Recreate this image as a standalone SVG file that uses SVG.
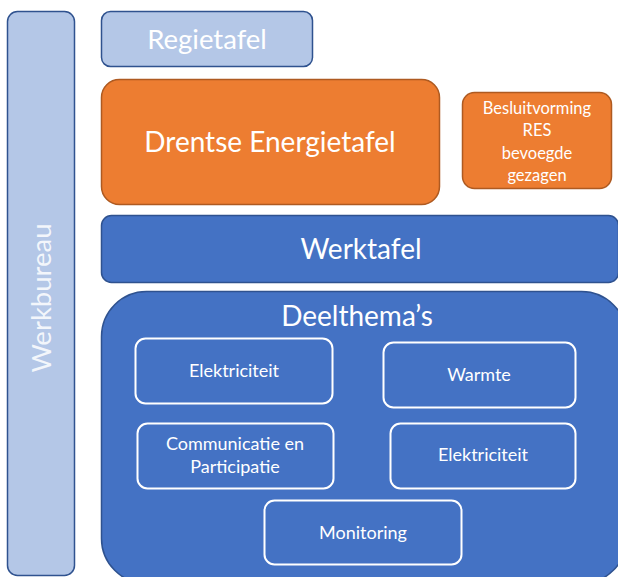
<svg xmlns="http://www.w3.org/2000/svg" width="618" height="577" viewBox="0 0 618 577">
<style>
text{font-family:Lato,"Liberation Sans",sans-serif;fill:#ffffff;text-anchor:middle}
.light{fill:#b4c7e7;stroke:#2f528f;stroke-width:1.5}
.orange{fill:#ed7d31;stroke:#ae5a21;stroke-width:1.5}
.blue{fill:#4472c4;stroke:#2f528f;stroke-width:1.5}
.sub{fill:none;stroke:#ffffff;stroke-width:2}
.big{font-size:28px}
.mid{font-size:18px}
.sm{font-size:16.5px}
</style>
<rect width="618" height="577" fill="#ffffff"/>
<g id="werkbureau">
<rect class="light" x="7.5" y="11.5" width="67" height="564" rx="10"/>
<text transform="translate(51,298) rotate(-90)" font-size="27.5" fill-opacity="0.85">Werkbureau</text>
</g>
<g id="regietafel">
<rect class="light" x="101.5" y="11.5" width="211" height="55" rx="9"/>
<text x="207" y="49" font-size="27.5">Regietafel</text>
</g>
<g id="energietafel">
<rect class="orange" x="101.5" y="79.5" width="338" height="125" rx="18"/>
<text class="big" x="270" y="152">Drentse Energietafel</text>
</g>
<g id="besluitvorming">
<rect class="orange" x="462.5" y="92.5" width="149" height="96" rx="12"/>
<text class="sm" x="537" y="114">Besluitvorming</text>
<text class="sm" x="537" y="136">RES</text>
<text class="sm" x="537" y="159">bevoegde</text>
<text class="sm" x="537" y="181">gezagen</text>
</g>
<g id="werktafel">
<rect class="blue" x="101.5" y="215.5" width="517" height="67" rx="10"/>
<text class="big" x="361" y="259">Werktafel</text>
</g>
<g id="deelthemas">
<rect class="blue" x="101.5" y="291.5" width="525" height="292" rx="45"/>
<text class="big" x="357" y="326">Deelthema’s</text>
</g>
<g id="elektriciteit1">
<rect class="sub" x="135.5" y="338.5" width="197" height="65" rx="10"/>
<text class="mid" x="234" y="377">Elektriciteit</text>
</g>
<g id="warmte">
<rect class="sub" x="383.5" y="342.5" width="192" height="65" rx="10"/>
<text class="mid" x="479" y="381">Warmte</text>
</g>
<g id="communicatie">
<rect class="sub" x="137.5" y="423.5" width="196" height="65" rx="10"/>
<text class="mid" x="235" y="450">Communicatie en</text>
<text class="mid" x="235" y="473">Participatie</text>
</g>
<g id="elektriciteit2">
<rect class="sub" x="390.5" y="423.5" width="185" height="65" rx="10"/>
<text class="mid" x="483" y="461">Elektriciteit</text>
</g>
<g id="monitoring">
<rect class="sub" x="264.5" y="500.5" width="197" height="64" rx="10"/>
<text class="mid" x="363" y="539">Monitoring</text>
</g>
<g id="connectors"></g>
</svg>
